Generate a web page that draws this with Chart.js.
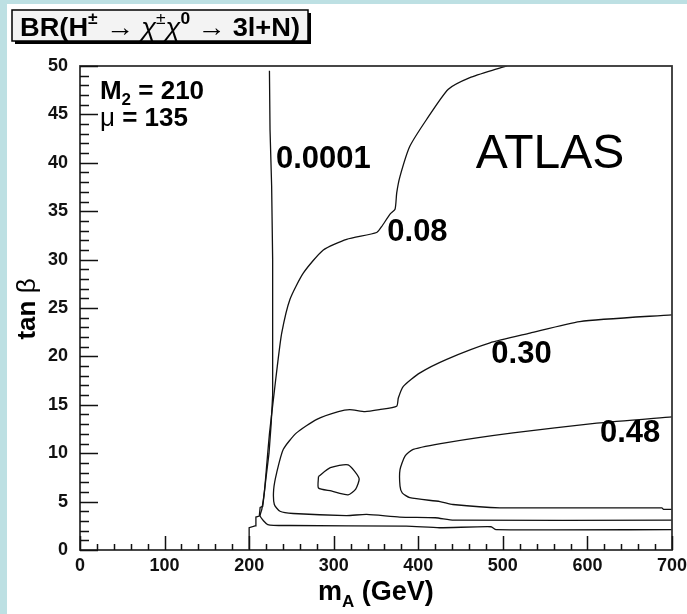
<!DOCTYPE html>
<html>
<head>
<meta charset="utf-8">
<script src="https://cdn.jsdelivr.net/npm/chart.js@4.4.1/dist/chart.umd.min.js"></script>
<style>
  html, body { margin: 0; padding: 0; background: #fff; }
  canvas { display: block; }
</style>
</head>
<body>
<canvas id="myChart" width="687" height="614"></canvas>
<script>
// contour lines: mA (GeV) and tan beta
const br0001_mA   = [200, 200, 207, 208, 212, 213, 216, 217, 220, 223.5, 226, 227.8, 227.8, 226.6, 224.7, 224];
const br0001_tanb = [0, 2.3, 2.5, 3.4, 3.5, 4.4, 4.5, 5.2, 7.5, 10, 13, 16, 30, 37.6, 43.4, 49.5];

const br008_mA   = [700, 492, 486, 425, 386, 248, 222, 213, 215, 218, 221, 224, 228.6, 233.3, 238.5, 248.3, 264, 287.7, 315.3, 350.8, 356.6, 366.6, 372.5, 374.5, 378.4, 390, 410, 435.5, 461, 493, 505];
const br008_tanb = [2.1, 2.1, 2.4, 2.3, 2.46, 2.53, 2.63, 3.5, 4.2, 6, 9, 12, 15.5, 19, 22.4, 25.9, 28.6, 31, 32.1, 32.8, 33.4, 34.7, 35.2, 36.9, 38.6, 41.7, 44.5, 47.6, 48.8, 49.7, 50];

const br030_mA   = [700, 591, 532, 484.8, 433.6, 402, 382.3, 376.4, 374.4, 354, 337, 319, 305.5, 280, 256, 240.4, 232.6, 229, 229.8, 236.5, 252, 315, 339, 378, 420, 442, 700];
const br030_tanb = [24.3, 23.6, 22.4, 21.4, 19.7, 18.3, 16.9, 15.7, 14.85, 14.5, 14.3, 14.5, 14.3, 13.5, 12.1, 10.4, 8.0, 6.25, 4.7, 4.0, 3.77, 3.56, 3.67, 3.4, 3.33, 3.08, 3.08];

const br030island_mA   = [282, 296, 317, 330, 326, 317, 297, 282, 282];
const br030island_tanb = [7.6, 8.5, 8.8, 7.4, 6.3, 5.7, 6.1, 6.4, 7.6];

const br048_mA   = [700, 611, 512, 433.6, 394, 384.3, 378.4, 378.4, 381, 390, 425.7, 441, 496.6, 688, 690, 700];
const br048_tanb = [13.76, 13.1, 12.1, 11.1, 10.4, 9.7, 8.3, 6.6, 5.9, 5.4, 5.0, 4.7, 4.36, 4.36, 4.2, 4.2];

const xTicks = [0, 100, 200, 300, 400, 500, 600, 700];
const yTicks = [0, 5, 10, 15, 20, 25, 30, 35, 40, 45, 50];

// contour labels and where they sit (mA, tan beta)
const contourLabels = ['0.0001', '0.08', '0.30', '0.48'];
const labelMA   = [287.7, 399, 522, 650.4];
const labelTanb = [40.3, 32.85, 20.2, 12.0];

const FONT = "'Liberation Sans', Arial, Helvetica, sans-serif";

function toPoints(xs, ys) {
  return xs.map(function(x, i) { return { x: x, y: ys[i] }; });
}

function contour(xs, ys, tension) {
  return {
    data: toPoints(xs, ys),
    showLine: true,
    borderColor: '#111',
    borderWidth: 1.3,
    pointRadius: 0,
    tension: tension
  };
}

// draws text pieces one after another, with super/subscripts
function drawPieces(c, pieces, x, y) {
  pieces.forEach(function(p) {
    c.font = p.f + ' ' + FONT;
    c.fillText(p.t, x, y + (p.dy || 0));
    x += c.measureText(p.t).width + (p.gap || 0);
  });
  return x;
}

function piecesWidth(c, pieces) {
  let w = 0;
  pieces.forEach(function(p) {
    c.font = p.f + ' ' + FONT;
    w += c.measureText(p.t).width + (p.gap || 0);
  });
  return w;
}

const decor = {
  id: 'decor',
  beforeDraw(chart) {
    const c = chart.ctx;
    c.save();
    c.fillStyle = '#bde0e3';
    c.fillRect(0, 0, chart.width, chart.height);
    c.fillStyle = '#fff';
    c.fillRect(7, 4, chart.width - 7, chart.height - 4);
    c.restore();
  },
  afterDraw(chart) {
    const c = chart.ctx;
    const a = chart.chartArea;
    const xs = chart.scales.x, ys = chart.scales.y;
    c.save();

    // frame
    c.strokeStyle = '#333';
    c.lineWidth = 1.8;
    c.strokeRect(a.left, a.top, a.right - a.left, a.bottom - a.top);

    // ticks, pointing inwards
    c.strokeStyle = '#111';
    c.lineWidth = 1.5;
    c.beginPath();
    for (let v = yTicks[0]; v <= yTicks[yTicks.length - 1]; v += 1) {
      const py = Math.round(ys.getPixelForValue(v)) + 0.5;
      const len = (v % 5 === 0) ? 18 : 9;
      c.moveTo(a.left, py);
      c.lineTo(a.left + len, py);
    }
    for (let v = xTicks[0]; v <= xTicks[xTicks.length - 1]; v += 20) {
      const px = Math.round(xs.getPixelForValue(v)) + 0.5;
      const len = (v % 100 === 0) ? 14 : 6;
      c.moveTo(px, a.bottom);
      c.lineTo(px, a.bottom - len);
    }
    c.stroke();

    // contour labels
    c.fillStyle = '#000';
    c.textAlign = 'center';
    c.textBaseline = 'middle';
    c.font = 'bold 31px ' + FONT;
    contourLabels.forEach(function(t, i) {
      c.fillText(t, xs.getPixelForValue(labelMA[i]), ys.getPixelForValue(labelTanb[i]));
    });
    c.font = '48px ' + FONT;
    c.fillText('ATLAS', xs.getPixelForValue(555.8), ys.getPixelForValue(40.8));

    // parameter text
    c.textAlign = 'left';
    c.textBaseline = 'alphabetic';
    const px0 = xs.getPixelForValue(23.6);
    drawPieces(c, [
      { t: 'M', f: 'bold 26px' },
      { t: '2', f: 'bold 17px', dy: 6 },
      { t: ' = 210', f: 'bold 26px' }
    ], px0, ys.getPixelForValue(46.6));
    drawPieces(c, [
      { t: '\u03BC', f: '26px' },
      { t: ' = 135', f: 'bold 26px' }
    ], px0, ys.getPixelForValue(43.8));

    // axis titles
    const xt = [
      { t: 'm', f: 'bold 27px' },
      { t: 'A', f: 'bold 17px', dy: 7 },
      { t: ' (GeV)', f: 'bold 27px' }
    ];
    drawPieces(c, xt, 318, 600);

    c.save();
    c.translate(35, 309);
    c.rotate(-Math.PI / 2);
    const yt = [
      { t: 'tan ', f: 'bold 26px' },
      { t: '\u03B2', f: '26px' }
    ];
    drawPieces(c, yt, -piecesWidth(c, yt) / 2, 0);
    c.restore();

    // title box
    const bx = 12, by = 10, bw = 296, bh = 31;
    c.fillStyle = '#000';
    c.fillRect(bx + 3, by + 3, bw, bh);
    c.fillStyle = '#f3f3f3';
    c.fillRect(bx, by, bw, bh);
    c.strokeStyle = '#000';
    c.lineWidth = 1.5;
    c.strokeRect(bx, by, bw, bh);

    const tp = [
      { t: 'BR(H', f: 'bold 25px' },
      { t: '\u00B1', f: 'bold 16px', dy: -12, gap: 8 },
      { t: '\u2192', f: '26px', gap: 6 },
      { t: '\u03C7', f: 'italic 25px' },
      { t: '\u00B1', f: '16px', dy: -12 },
      { t: '\u03C7', f: 'italic 25px' },
      { t: '0', f: 'bold 16px', dy: -12, gap: 7 },
      { t: '\u2192', f: '26px', gap: 6 },
      { t: '3l+N)', f: 'bold 25px' }
    ];
    const tw = piecesWidth(c, tp);
    c.fillStyle = '#000';
    c.save();
    c.translate(20, 36);
    c.scale(280 / tw, 1);
    drawPieces(c, tp, 0, 0);
    c.restore();

    c.restore();
  }
};

const tickFont = { family: FONT, size: 18, weight: 'bold' };

const myChart = new Chart(document.getElementById('myChart'), {
  type: 'scatter',
  data: {
    datasets: [
      contour(br0001_mA, br0001_tanb, 0),
      contour(br008_mA, br008_tanb, 0.2),
      contour(br030_mA, br030_tanb, 0.2),
      contour(br030island_mA, br030island_tanb, 0.2),
      contour(br048_mA, br048_tanb, 0.2)
    ]
  },
  options: {
    responsive: false,
    animation: false,
    devicePixelRatio: 1,
    layout: { padding: { left: 0, right: 15, top: 66, bottom: 0 } },
    plugins: {
      legend: { display: false },
      tooltip: { enabled: false }
    },
    scales: {
      x: {
        type: 'linear',
        min: 0,
        max: 700,
        grid: { display: false },
        border: { display: false },
        afterBuildTicks: function(s) { s.ticks = xTicks.map(function(v) { return { value: v }; }); },
        afterFit: function(s) { s.height = 64; },
        ticks: { font: tickFont, color: '#111', padding: -3, maxRotation: 0, autoSkip: false }
      },
      y: {
        type: 'linear',
        min: 0,
        max: 50,
        grid: { display: false },
        border: { display: false },
        afterBuildTicks: function(s) { s.ticks = yTicks.map(function(v) { return { value: v }; }); },
        afterFit: function(s) { s.width = 80; },
        ticks: { font: tickFont, color: '#111', padding: 4, autoSkip: false }
      }
    }
  },
  plugins: [decor]
});
</script>
</body>
</html>
